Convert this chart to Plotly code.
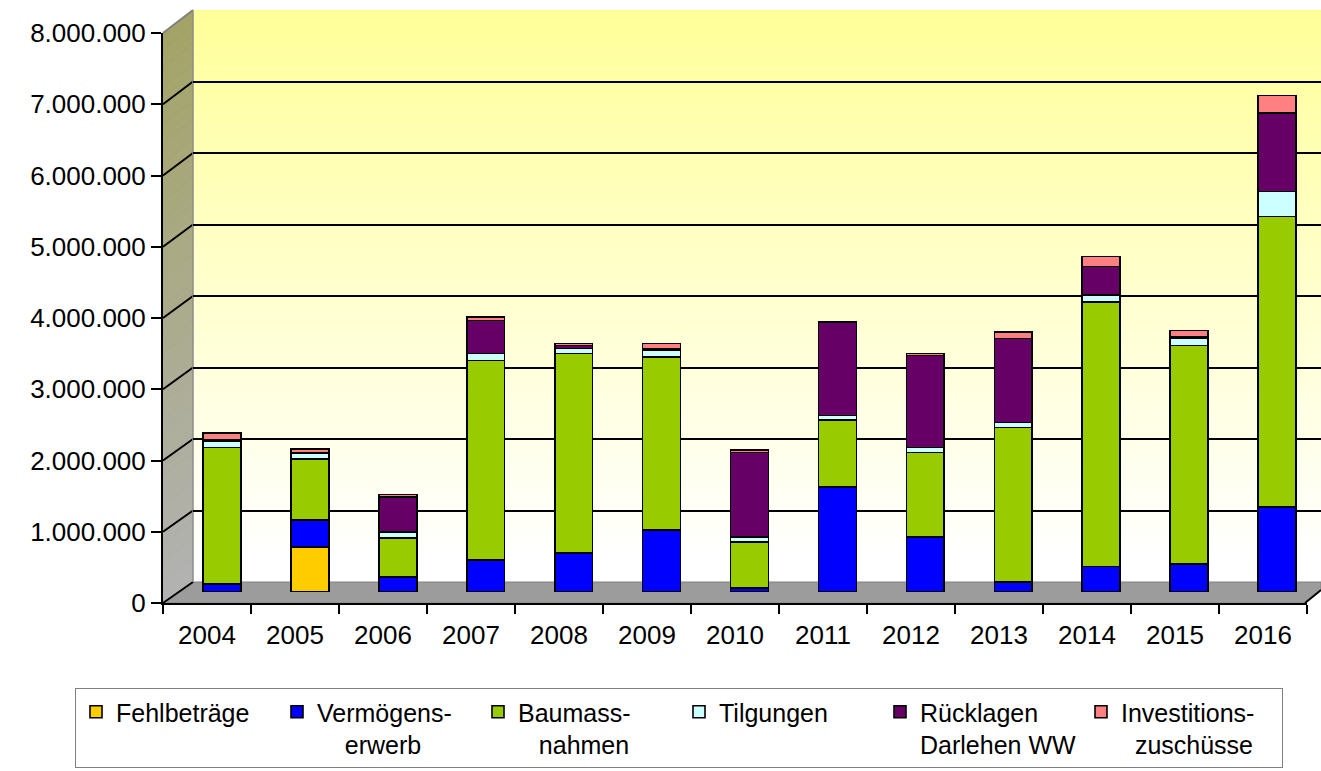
import plotly.graph_objects as go

# ---------------- data (EUR) ----------------
years = ["2004", "2005", "2006", "2007", "2008", "2009", "2010",
         "2011", "2012", "2013", "2014", "2015", "2016"]
fehlbetraege = [0, 630000, 0, 0, 0, 0, 0, 0, 0, 0, 0, 0, 0]
vermoegenserwerb = [110000, 380000, 210000, 450000, 550000, 870000, 60000,
                    1470000, 770000, 140000, 360000, 390000, 1190000]
baumassnahmen = [1920000, 860000, 550000, 2800000, 2800000, 2430000, 640000,
                 940000, 1190000, 2170000, 3710000, 3070000, 4080000]
tilgungen = [80000, 80000, 80000, 100000, 70000, 90000, 70000,
             70000, 70000, 70000, 100000, 100000, 350000]
ruecklagen = [20000, 0, 490000, 460000, 40000, 20000, 1190000,
              1310000, 1290000, 1180000, 400000, 20000, 1100000]
investitionszuschuesse = [100000, 60000, 40000, 50000, 30000, 80000, 30000,
                          0, 30000, 90000, 140000, 90000, 250000]
y_ticks = [0, 1000000, 2000000, 3000000, 4000000, 5000000, 6000000, 7000000, 8000000]

series_names = ["Fehlbeträge",
                "Vermögens-<br>\u00a0\u00a0\u00a0\u00a0erwerb",
                "Baumass-<br>\u00a0\u00a0\u00a0nahmen",
                "Tilgungen",
                "Rücklagen<br>Darlehen WW",
                "Investitions-<br>\u00a0\u00a0zuschüsse"]
series_values = [fehlbetraege, vermoegenserwerb, baumassnahmen,
                 tilgungen, ruecklagen, investitionszuschuesse]
series_colors = ["#FFCC00", "#0000FF", "#99CC00", "#CCFFFF", "#660066", "#FF8080"]

# ---------------- geometry helpers ----------------
W, H = 1321, 771
def px(x):
    return x / W
def py(y):
    return 1 - y / H

FRONT_X0, FRONT_X1 = 163, 1307
FRONT_Y0, FRONT_Y8 = 603, 33
BACK_X0 = 193
BACK_Y0, BACK_Y8 = 582, 10
MID_X0 = 178
MID_Y0, MID_Y8 = 592, 22
YMAX = 8000000
CAT_RANGE = [-0.5, len(years) - 0.5]

fig = go.Figure()

# invisible trace for the labelled front axes
fig.add_trace(go.Scatter(x=years, y=[None] * len(years), xaxis="x", yaxis="y",
                         mode="markers", showlegend=False, hoverinfo="skip"))
# invisible trace for back wall gridlines
fig.add_trace(go.Scatter(x=[0], y=[None], xaxis="x2", yaxis="y2",
                         mode="markers", showlegend=False, hoverinfo="skip"))
# stacked bars
for name, vals, col in zip(series_names, series_values, series_colors):
    fig.add_trace(go.Bar(x=years, y=vals, name=name, xaxis="x3", yaxis="y3",
                         marker=dict(color=col, line=dict(color="black", width=1.6))))

shapes = []
# back wall gradient (yellow to white)
n = 60
top_c = (255, 255, 153)
bot_c = (255, 255, 255)
for i in range(n):
    t0 = i / n
    t1 = (i + 1) / n
    y0 = BACK_Y8 + (BACK_Y0 - BACK_Y8) * t0
    y1 = BACK_Y8 + (BACK_Y0 - BACK_Y8) * t1
    tm = (t0 + t1) / 2
    c = tuple(int(round(top_c[k] + (bot_c[k] - top_c[k]) * min(1, tm * 1.05))) for k in range(3))
    shapes.append(dict(type="rect", xref="paper", yref="paper", layer="below",
                       x0=px(BACK_X0), x1=1, y0=py(y1) - 0.0005, y1=py(y0),
                       fillcolor="rgb(%d,%d,%d)" % c, line=dict(width=0)))

# side wall gradient (olive to grey)
s_top = (163, 163, 102)
s_bot = (178, 178, 178)
for i in range(n):
    t0 = i / n
    t1 = (i + 1) / n
    fa0 = FRONT_Y8 + (FRONT_Y0 - FRONT_Y8) * t0
    fa1 = FRONT_Y8 + (FRONT_Y0 - FRONT_Y8) * t1 + 0.5
    ba0 = BACK_Y8 + (BACK_Y0 - BACK_Y8) * t0
    ba1 = BACK_Y8 + (BACK_Y0 - BACK_Y8) * t1 + 0.5
    tm = (t0 + t1) / 2
    c = tuple(int(round(s_top[k] + (s_bot[k] - s_top[k]) * tm)) for k in range(3))
    path = "M %f,%f L %f,%f L %f,%f L %f,%f Z" % (
        px(FRONT_X0), py(fa0), px(BACK_X0), py(ba0),
        px(BACK_X0), py(ba1), px(FRONT_X0), py(fa1))
    shapes.append(dict(type="path", xref="paper", yref="paper", layer="below",
                       path=path, fillcolor="rgb(%d,%d,%d)" % c, line=dict(width=0)))

# floor
floor_path = "M %f,%f L %f,%f L %f,%f L %f,%f L %f,%f Z" % (
    px(FRONT_X0), py(FRONT_Y0), px(BACK_X0), py(BACK_Y0),
    1.0, py(BACK_Y0), 1.0, py(590), px(1305), py(FRONT_Y0))
shapes.append(dict(type="path", xref="paper", yref="paper", layer="below",
                   path=floor_path, fillcolor="#9C9C9C",
                   line=dict(color="#808080", width=1)))
shapes.append(dict(type="line", xref="paper", yref="paper", layer="above",
                   x0=px(1305), y0=py(FRONT_Y0), x1=1.0, y1=py(590),
                   line=dict(color="black", width=2)))

# side-wall gridline diagonals
for v in y_ticks[1:]:
    yf = FRONT_Y0 - (FRONT_Y0 - FRONT_Y8) * v / YMAX
    yb = BACK_Y0 - (BACK_Y0 - BACK_Y8) * v / YMAX
    col = "#808080" if v == YMAX else "black"
    shapes.append(dict(type="line", xref="paper", yref="paper", layer="below",
                       x0=px(FRONT_X0), y0=py(yf), x1=px(BACK_X0), y1=py(yb),
                       line=dict(color=col, width=2)))
# floor diagonal at the left
shapes.append(dict(type="line", xref="paper", yref="paper", layer="below",
                   x0=px(FRONT_X0), y0=py(FRONT_Y0), x1=px(BACK_X0), y1=py(BACK_Y0),
                   line=dict(color="black", width=2)))
# back wall left edge
shapes.append(dict(type="line", xref="paper", yref="paper", layer="below",
                   x0=px(BACK_X0), y0=py(BACK_Y0), x1=px(BACK_X0), y1=py(BACK_Y8),
                   line=dict(color="#8C8C8C", width=1.5)))

font_family = "Liberation Sans, Arial, sans-serif"

fig.update_layout(
    width=W, height=H,
    margin=dict(l=0, r=0, t=0, b=0, autoexpand=False),
    paper_bgcolor="white",
    plot_bgcolor="rgba(0,0,0,0)",
    separators=",.",
    barmode="stack",
    bargap=0.57,
    shapes=shapes,
    font=dict(family=font_family, color="black"),
    xaxis=dict(domain=[px(FRONT_X0), px(FRONT_X1)], anchor="y", type="category",
               range=CAT_RANGE,
               showline=True, linecolor="black", linewidth=2,
               ticks="outside", tickson="boundaries", ticklen=9, tickwidth=1.5,
               tickcolor="black", showgrid=False, zeroline=False, automargin=False,
               tickfont=dict(size=26, color="black"), ticklabelstandoff=8),
    yaxis=dict(domain=[py(FRONT_Y0), py(FRONT_Y8)], anchor="x", range=[0, YMAX],
               tickvals=y_ticks, tickformat=",", showline=True, linecolor="black",
               linewidth=2, ticks="outside", ticklen=10, tickwidth=1.5, tickcolor="black",
               showgrid=False, zeroline=False, automargin=False,
               tickfont=dict(size=26, color="black")),
    xaxis2=dict(domain=[px(BACK_X0), 1.0], anchor="y2", range=[0, 1], visible=False),
    yaxis2=dict(domain=[py(BACK_Y0), py(BACK_Y8)], anchor="x2", range=[0, YMAX],
                tickvals=y_ticks[1:], showticklabels=False, ticks="", showline=False,
                showgrid=True, gridcolor="black", gridwidth=2, zeroline=False),
    xaxis3=dict(domain=[px(MID_X0), 1.0], anchor="y3", type="category",
                range=CAT_RANGE, visible=False),
    yaxis3=dict(domain=[py(MID_Y0), py(MID_Y8)], anchor="x3", range=[0, YMAX],
                visible=False),
    legend=dict(orientation="h", x=px(75), y=py(688), xanchor="left", yanchor="top",
                bgcolor="white", bordercolor="#808080", borderwidth=1,
                font=dict(family=font_family, size=25, color="black"),
                valign="top", traceorder="normal", entrywidth=156,
                itemwidth=30, tracegroupgap=0),
    showlegend=True,
)

fig.write_html("out.html", config={"displayModeBar": False},
               post_script="document.body.style.margin='0';document.body.style.overflow='hidden';")
